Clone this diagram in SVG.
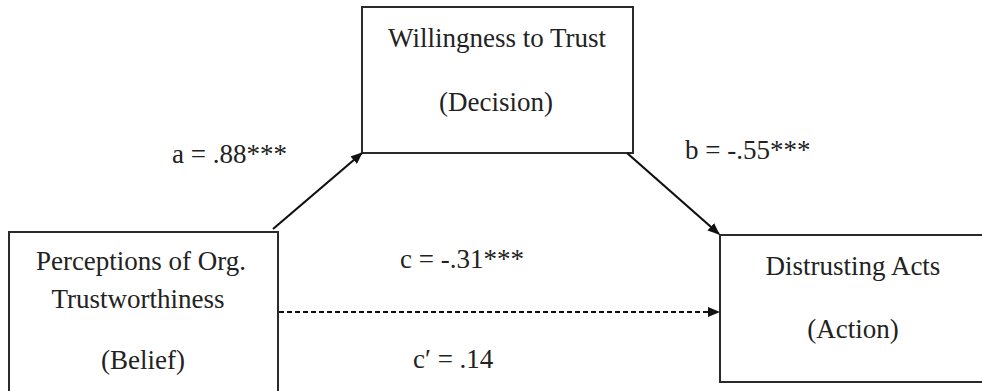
<svg xmlns="http://www.w3.org/2000/svg" width="982" height="391" viewBox="0 0 982 391">
<style>
.box{fill:#fff;stroke:#2a2a2a;stroke-width:2}
.t{font-size:27px;fill:#222;text-anchor:middle}
.lbl{font-size:27px;fill:#222}
.c{stroke:#111;stroke-width:2.2;fill:none}
</style>
<defs>
<marker id="ah" viewBox="0 0 12 10" refX="11" refY="5" markerWidth="12" markerHeight="10" markerUnits="userSpaceOnUse" orient="auto">
<path d="M0,0 L12,5 L0,10 Z" fill="#111"/>
</marker>
</defs>
<rect width="982" height="391" fill="#fff"/>
<g font-family="'Liberation Serif', 'DejaVu Serif', serif">
<g id="node-trust">
<rect class="box" x="362" y="7" width="271" height="146"/>
<text class="t" x="497" y="47">Willingness to Trust</text>
<text class="t" x="496" y="111">(Decision)</text>
</g>
<g id="node-belief">
<rect class="box" x="9" y="232" width="269" height="170"/>
<text class="t" x="141" y="270">Perceptions of Org.</text>
<text class="t" x="138" y="308">Trustworthiness</text>
<text class="t" x="143" y="369">(Belief)</text>
</g>
<g id="node-action">
<rect class="box" x="720" y="235" width="280" height="147"/>
<text class="t" x="853" y="275">Distrusting Acts</text>
<text class="t" x="853" y="338">(Action)</text>
</g>
<g id="connectors">
<line class="c" x1="273" y1="229" x2="362" y2="153" marker-end="url(#ah)"/>
<line class="c" x1="627" y1="153" x2="719" y2="234" marker-end="url(#ah)"/>
<line class="c" x1="279" y1="312" x2="719" y2="312" stroke-dasharray="5,3" marker-end="url(#ah)"/>
</g>
<g id="labels">
<text class="lbl" x="172" y="163">a = .88***</text>
<text class="lbl" x="685" y="159">b = -.55***</text>
<text class="lbl" x="400" y="268">c = -.31***</text>
<text class="lbl" x="413" y="368">c′ = .14</text>
</g>
</g>
</svg>
